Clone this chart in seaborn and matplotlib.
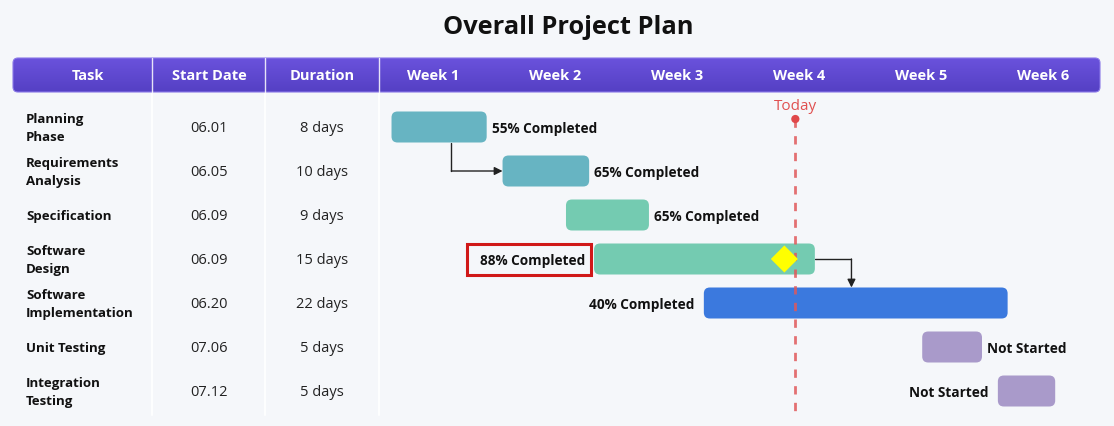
import numpy as np
import pandas as pd
import matplotlib
matplotlib.use("Agg")
import matplotlib.pyplot as plt
import seaborn as sns
from matplotlib.patches import FancyBboxPatch, Rectangle
from matplotlib.colors import LinearSegmentedColormap

# ---------------- data ----------------
title = "Overall Project Plan"
header_labels = ["Task", "Start Date", "Duration"]
week_labels = ["Week 1", "Week 2", "Week 3", "Week 4", "Week 5", "Week 6"]
tasks = ["Planning\nPhase", "Requirements\nAnalysis", "Specification", "Software\nDesign",
         "Software\nImplementation", "Unit Testing", "Integration\nTesting"]
start_dates = ["06.01", "06.05", "06.09", "06.09", "06.20", "07.06", "07.12"]
durations = ["8 days", "10 days", "9 days", "15 days", "22 days", "5 days", "5 days"]
bar_start = [0.16, 1.07, 1.59, 1.82, 2.72, 4.51, 5.13]   # in weeks
bar_end = [0.94, 1.78, 2.27, 3.63, 5.21, 5.00, 5.60]
status = ["55% Completed", "65% Completed", "65% Completed", "88% Completed",
          "40% Completed", "Not Started", "Not Started"]
label_side = ["right", "right", "right", "left", "left", "right", "left"]
bar_colors = ["#67b4c2", "#67b4c2", "#74cbb1", "#74cbb1", "#3b79de", "#a99aca", "#a99aca"]
today = 3.47
milestone_x = [3.38]
milestone_row = [3]
links = [(0, 1, 0.65), (3, 4, 3.93)]  # (from, to, elbow x)
highlight_row = 3

# ---------------- layout helpers ----------------
W, H = 1114, 426
X0, WK = 372.0, 122.0      # pixel of week-1 start, pixels per week
Y0, RW = 127.0, 44.0       # pixel of row-0 centre, pixels per row


def X(px):
    return (px - X0) / WK


def Y(py):
    return (py - Y0) / RW


TDY = 1.8 / RW   # small text baseline correction

sns.set_theme(style="white")
plt.rcParams["font.family"] = ["Open Sans", "DejaVu Sans"]

fig = plt.figure(figsize=(W / 100, H / 100), dpi=100)
bg = "#f5f7fa"
fig.patch.set_facecolor(bg)
ax = fig.add_axes([0, 0, 1, 1])
ax.set_facecolor(bg)
ax.set_xlim(X(0), X(W))
ax.set_ylim(Y(H), Y(0))
ax.axis("off")

# title
fig.text(568 / W, 1 - 28 / H, title, ha="center", va="center",
         fontsize=18.3, fontweight="bold", color="#111111")

# header bar with gradient
hx0, hx1, hy0, hy1 = X(13), X(1100), Y(58), Y(92)
mut = (1 / RW) / (1 / WK)
header = FancyBboxPatch((hx0, hy0), hx1 - hx0, hy1 - hy0,
                        boxstyle="round,pad=0,rounding_size=%f" % (5 / WK),
                        mutation_aspect=mut, fc="none", ec="#8a78e8", lw=0.8, zorder=3)
ax.add_patch(header)
grad = np.linspace(0, 1, 64).reshape(-1, 1)
cmap = LinearSegmentedColormap.from_list("hdr", ["#6a52dc", "#5540c4"])
im = ax.imshow(grad, cmap=cmap, extent=[hx0, hx1, hy1, hy0], aspect="auto",
               origin="upper", zorder=2)
im.set_clip_path(header)

col_div = [X(152), X(265), X(379)]
for cx in col_div:
    ax.plot([cx, cx], [hy0, hy1], color="white", lw=1, alpha=0.85, zorder=4)
    ax.plot([cx, cx], [hy1, Y(415)], color="white", lw=1.5, alpha=0.9, zorder=1)

hdr_y = Y(75) + TDY * 0.6
hdr_x = [X(88), X(209), X(322)]
for lab, x in zip(header_labels, hdr_x):
    ax.text(x, hdr_y, lab, ha="center", va="center", color="white",
            fontsize=10.5, fontweight="bold", zorder=5)
for i, lab in enumerate(week_labels):
    ax.text(i + 0.5, hdr_y, lab, ha="center", va="center", color="white",
            fontsize=10.5, fontweight="bold", zorder=5)

# table body
for i, (t, sd, du) in enumerate(zip(tasks, start_dates, durations)):
    ax.text(X(26), i + TDY, t, ha="left", va="center", fontsize=9.5, fontweight="bold",
            color="#111111", linespacing=1.5)
    ax.text(X(209), i + TDY, sd, ha="center", va="center", fontsize=10.5, color="#222222")
    ax.text(X(322), i + TDY, du, ha="center", va="center", fontsize=10.5, color="#222222")

# today line
ax.plot([today, today], [Y(119), Y(415)], color="#e0585a", lw=2,
        ls=(0, (3, 3)), alpha=0.85, zorder=6)
sns.scatterplot(x=[today], y=[Y(119)], color="#e0484a", s=35, edgecolor="none",
                ax=ax, zorder=7, legend=False)
ax.text(today, Y(105) + TDY, "Today", ha="center", va="center", color="#e05050", fontsize=11)

# bars
bh = 31 / RW
for i, (s, e, c) in enumerate(zip(bar_start, bar_end, bar_colors)):
    p = FancyBboxPatch((s, i - bh / 2), e - s, bh,
                       boxstyle="round,pad=0,rounding_size=%f" % (6 / WK),
                       mutation_aspect=mut, fc=c, ec="none", zorder=5)
    ax.add_patch(p)
    if label_side[i] == "right":
        ax.text(e + 5 / WK, i + TDY, status[i], ha="left", va="center", fontsize=9.8,
                fontweight="bold", color="#111111", zorder=8)
    else:
        ax.text(s - 9 / WK, i + TDY, status[i], ha="right", va="center", fontsize=9.8,
                fontweight="bold", color="#111111", zorder=8)

# highlight box around label
r = highlight_row
ax.add_patch(Rectangle((bar_start[r] - 127 / WK, r - bh / 2), 124 / WK, bh,
                       fc="none", ec="#d01818", lw=2.2, zorder=9))

# milestone
sns.scatterplot(x=milestone_x, y=milestone_row, marker="D", s=190, color="#ffff00",
                edgecolor="none", ax=ax, zorder=9, legend=False)

# dependency links
for a, b, ex in links:
    if ex < bar_end[a]:
        ax.plot([ex, ex], [a + bh / 2, b], color="#222222", lw=1, zorder=4)
        ax.annotate("", xy=(bar_start[b], b), xytext=(ex, b),
                    arrowprops=dict(arrowstyle="-|>", color="#222222", lw=1,
                                    mutation_scale=12, shrinkA=0, shrinkB=0), zorder=4)
    else:
        ax.plot([bar_end[a], ex], [a, a], color="#222222", lw=1, zorder=4)
        ax.annotate("", xy=(ex, b - bh / 2), xytext=(ex, a),
                    arrowprops=dict(arrowstyle="-|>", color="#222222", lw=1,
                                    mutation_scale=12, shrinkA=0, shrinkB=0), zorder=4)

fig.savefig("out.png", dpi=100, facecolor=fig.get_facecolor())
